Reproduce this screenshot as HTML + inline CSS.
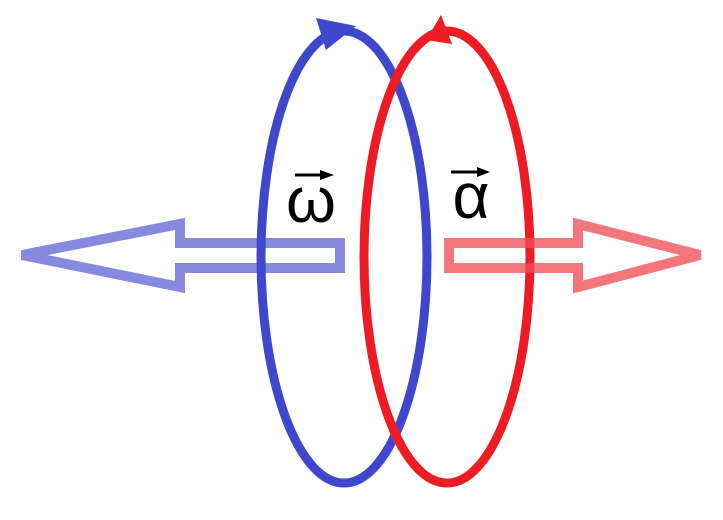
<!DOCTYPE html>
<html><head><style>html,body{margin:0;padding:0;background:#fff}</style></head><body>
<svg width="723" height="515" viewBox="0 0 723 515" xmlns="http://www.w3.org/2000/svg">
<polygon points="22,255 180,224 180,243 340,243 340,268 180,268 180,287" fill="none" stroke="#868ade" stroke-width="10" stroke-linejoin="miter"/>
<ellipse cx="344" cy="257" rx="83" ry="226" fill="none" stroke="#3f48cc" stroke-width="9"/>
<ellipse cx="447" cy="257" rx="83" ry="226" fill="none" stroke="#ed1c24" stroke-width="9"/>
<polygon points="449,243 578,243 578,224 700,255 578,287 578,268 449,268" fill="none" stroke="rgb(240,80,88)" stroke-opacity="0.78" stroke-width="10"/>
<polygon points="316,18 356,26 326,50" fill="#3f48cc"/>
<polygon points="441,15 452,44 426,40" fill="#ed1c24"/>
<text x="311" y="222" font-family="Liberation Sans, sans-serif" font-size="64" text-anchor="middle">ω</text>
<line x1="295" y1="175" x2="325" y2="175" stroke="#000" stroke-width="3"/>
<polygon points="320,170 334,175 320,180" fill="#000"/>
<text x="471" y="218" font-family="Liberation Sans, sans-serif" font-size="64" text-anchor="middle">α</text>
<line x1="451" y1="172" x2="482" y2="172" stroke="#000" stroke-width="3"/>
<polygon points="477,167 490,172 477,177" fill="#000"/>
</svg>
</body></html>
